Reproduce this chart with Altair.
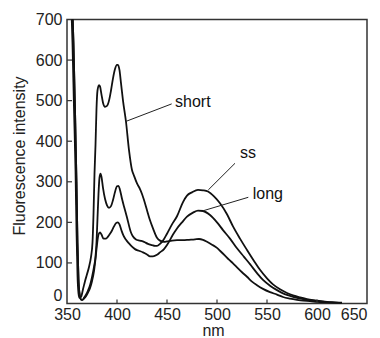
import altair as alt
import pandas as pd

# ---- data ----
short_nm = [354, 355.5, 357, 358.5, 359.5, 360.5, 361.5, 362.5, 364, 366, 368, 370, 372, 374, 375.5, 376.5,
            377.5, 378.5, 379.5, 380.5, 382, 383, 384.5, 386, 388, 390, 392, 394, 396, 398, 400, 401, 402.5,
            404, 406, 409, 412, 415, 417, 420, 423, 425, 427, 430, 433, 436, 440, 443, 447, 450, 455, 460,
            466, 472, 478, 482, 486, 490, 495, 500, 503, 508, 512, 516, 520, 525, 530, 535, 540, 546, 553,
            560, 566, 573, 580, 586, 593, 600, 610, 618, 625]
short_val = [760, 640, 480, 330, 180, 70, 25, 14, 16, 35, 55, 72, 90, 115, 150, 220,
             320, 390, 480, 525, 538, 535, 515, 495, 485, 487, 500, 525, 555, 578, 588, 588, 575,
             543, 500, 448, 378, 329, 315, 296, 282, 270, 255, 230, 205, 185, 162, 155, 152, 153, 155, 156,
             156, 157, 158, 159, 157, 152, 145, 137, 130, 118, 108, 99, 89, 77, 66, 54, 45, 36, 28,
             22, 16, 12, 9, 7, 6, 4, 2.5, 1.5, 1]

ss_nm = [355, 356.5, 358, 359.5, 360.5, 361.5, 362.5, 364, 365.5, 367, 369, 371, 373, 375, 377, 378.5,
         379.5, 380.5, 381.5, 382.5, 383.5, 384.5, 386, 388, 390, 392, 394, 396, 398, 400, 401.5, 403,
         405, 407, 410, 413.7, 416, 419, 423, 427, 431, 435, 438, 440, 443, 446, 450, 455, 460, 466, 470,
         475, 481, 486, 491, 497, 503, 510, 516, 523, 530, 537, 543, 550, 556, 563, 570, 576, 583, 590,
         600, 610, 618, 625]
ss_val = [760, 640, 480, 300, 150, 60, 25, 10, 9, 14, 22, 32, 45, 65, 90, 115,
          150, 210, 270, 310, 320, 312, 285, 258, 242, 236, 240, 255, 275, 289, 290, 280,
          258, 239, 212, 177, 165, 158, 155, 152, 147, 144, 142, 142, 147, 155, 172, 195, 215, 250, 266,
          274, 280, 279, 276, 264, 247, 220, 190, 160, 132, 105, 83, 62, 47, 35, 26, 20, 15, 11,
          7, 4, 3, 2]

long_nm = [355, 356.5, 358, 359.5, 360.5, 361.5, 362.5, 364, 365.5, 367, 369, 371, 373, 375, 377, 378.5,
           380, 381.5, 383, 384.5, 386.5, 389, 391, 393, 395, 397, 399, 401, 402.5, 404.5, 406.5, 409,
           412, 415, 418, 422, 426, 430, 433, 436, 440, 443, 447, 450, 456, 460, 465, 470, 476, 481, 486,
           493, 500, 506, 513, 520, 527, 533, 540, 546, 553, 560, 566, 573, 580, 586, 593, 600, 610, 618, 625]
long_val = [760, 640, 480, 300, 150, 60, 25, 10, 9, 12, 18, 27, 38, 55, 80, 110,
            145, 170, 175, 170, 160, 160, 165, 172, 180, 190, 198, 200, 195, 180, 167, 157,
            148, 140, 134, 130, 126, 121, 116, 116, 120, 126, 134, 144, 170, 185, 200, 214, 224, 229, 228,
            218, 200, 181, 160, 136, 115, 97, 75, 58, 44, 33, 25, 19, 14, 11, 8, 6, 3.5, 2, 1]

label_names = ["short", "ss", "long"]
label_nm = [458, 523, 535.7]
label_val = [485, 358.6, 256.8]
leader_nm = [408, 518, 531.3]
leader_val = [448, 345.6, 261.8]
leader_nm2 = [454.7, 491.3, 486.3]
leader_val2 = [492, 280, 228.7]

x_ticks = [350, 400, 450, 500, 550, 600, 650]
y_ticks = [0, 100, 200, 300, 400, 500, 600, 700]
inner_x_ticks = [400, 450, 500, 550, 600]
inner_y_ticks = [100, 200, 300, 400, 500, 600]

# ---- tables ----
rows = []
for name, xs, ys in [("short", short_nm, short_val), ("ss", ss_nm, ss_val), ("long", long_nm, long_val)]:
    for a, b in zip(xs, ys):
        rows.append({"series": name, "nm": a, "val": b})
curves = pd.DataFrame(rows)
labels = pd.DataFrame({"label": label_names, "nm": label_nm, "val": label_val})
leaders = pd.DataFrame({"nm": leader_nm, "val": leader_val, "nm2": leader_nm2, "val2": leader_val2})
xt = pd.DataFrame({"nm": inner_x_ticks, "val": [0] * len(inner_x_ticks), "val2": [10] * len(inner_x_ticks)})
yt = pd.DataFrame({"nm": [350] * len(inner_y_ticks), "nm2": [355] * len(inner_y_ticks), "val": inner_y_ticks})

FONT = "Liberation Sans"
xscale = alt.Scale(domain=[350, 650], nice=False, zero=False)
yscale = alt.Scale(domain=[0, 700], nice=False)
xaxis = alt.Axis(values=x_ticks, domain=False, ticks=False, tickSize=0, grid=False,
                 labelFlush=False, labelOverlap=False, labelBound=False,
                 labelPadding=3, titleX=146, titleY=32,
                 titleBaseline="alphabetic", titleAlign="center",
                 labelAlign=alt.ExprRef(expr="datum.value == 650 ? 'right' : 'center'"))
yaxis = alt.Axis(values=y_ticks, domain=False, ticks=False, tickSize=0, grid=False,
                 labelFlush=False, labelPadding=5, titleX=-43, titleY=136,
                 titleBaseline="alphabetic",
                 labelBaseline=alt.ExprRef(expr="datum.value == 0 ? 'bottom' : 'middle'"))

X = alt.X("nm:Q", scale=xscale, axis=xaxis, title="nm")
Y = alt.Y("val:Q", scale=yscale, axis=yaxis, title="Fluorescence intensity")

lines = alt.Chart(curves).mark_line(clip=True, color="#111", strokeWidth=1.8,
                                    interpolate="monotone").encode(
    x=X, y=Y, detail="series:N", order=alt.Order("nm:Q"))

xtick_layer = alt.Chart(xt).mark_rule(color="#333", strokeWidth=1.2).encode(x=X, y=Y, y2="val2:Q")
ytick_layer = alt.Chart(yt).mark_rule(color="#333", strokeWidth=1.2).encode(x=X, x2="nm2:Q", y=Y)

leader_layer = alt.Chart(leaders).mark_rule(color="#222", strokeWidth=1).encode(
    x=X, y=Y, x2="nm2:Q", y2="val2:Q")

text_layer = alt.Chart(labels).mark_text(align="left", baseline="alphabetic", font=FONT,
                                         fontSize=16, color="#111").encode(
    x=X, y=Y, text="label:N")

chart = alt.layer(lines, xtick_layer, ytick_layer, leader_layer, text_layer).properties(
    width=300, height=284,
    autosize=alt.AutoSizeParams(type="none"),
    padding={"left": 59, "top": 11.5, "right": 5, "bottom": 40},
).configure_view(
    stroke="#333", strokeWidth=1.5
).configure_axis(
    labelFont=FONT, titleFont=FONT, labelFontSize=16, titleFontSize=16,
    labelColor="#222", titleColor="#222", titleFontWeight="normal"
)

chart.save("out.html", embed_options={"renderer": "svg", "actions": False})
